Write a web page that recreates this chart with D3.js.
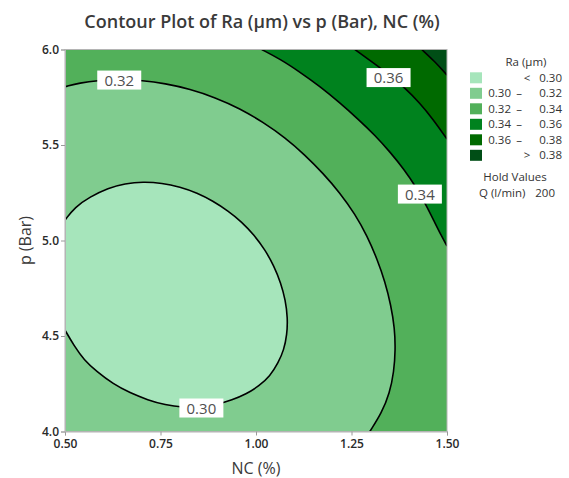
<!DOCTYPE html>
<html>
<head>
<meta charset="utf-8">
<script src="https://cdn.jsdelivr.net/npm/d3@7"></script>
<style>
  html, body { margin: 0; padding: 0; background: #fff; }
  svg { display: block; font-family: "Open Sans", "Noto Sans", sans-serif; }
</style>
</head>
<body>
<svg id="chart" width="569" height="478"></svg>
<script>
// ---- data ----
const xTicks = [0.50, 0.75, 1.00, 1.25, 1.50];
const yTicks = [4.0, 4.5, 5.0, 5.5, 6.0];

// contour lines, [NC (%), p (Bar)] points
const contour030 = [
  [0.500, 5.107], [0.526, 5.175], [0.565, 5.228], [0.613, 5.275], [0.657, 5.298],
  [0.704, 5.308], [0.754, 5.301], [0.801, 5.280], [0.846, 5.249], [0.887, 5.207],
  [0.927, 5.155], [0.963, 5.097], [0.995, 5.029], [1.024, 4.950], [1.047, 4.867],
  [1.065, 4.778], [1.077, 4.688], [1.083, 4.594], [1.081, 4.505], [1.073, 4.427],
  [1.058, 4.359], [1.037, 4.291], [1.008, 4.238], [0.974, 4.196], [0.937, 4.165],
  [0.898, 4.141], [0.853, 4.128], [0.809, 4.126], [0.762, 4.139], [0.717, 4.165],
  [0.670, 4.202], [0.626, 4.249], [0.584, 4.312], [0.550, 4.374], [0.524, 4.448],
  [0.500, 4.531]
];
const contour032 = [
  [0.500, 5.805], [0.539, 5.825], [0.584, 5.838], [0.644, 5.843], [0.702, 5.838],
  [0.762, 5.822], [0.827, 5.793], [0.893, 5.749], [0.958, 5.691], [1.018, 5.620],
  [1.076, 5.539], [1.128, 5.448], [1.175, 5.353], [1.220, 5.249], [1.259, 5.139],
  [1.291, 5.024], [1.317, 4.903], [1.338, 4.783], [1.353, 4.662], [1.363, 4.542],
  [1.365, 4.427], [1.361, 4.312], [1.350, 4.202], [1.329, 4.097], [1.298, 4.000]
];
const contour034 = [
  [1.015, 6.000], [1.063, 5.950], [1.115, 5.882], [1.168, 5.806], [1.220, 5.720],
  [1.267, 5.636], [1.312, 5.550], [1.351, 5.463], [1.387, 5.374], [1.419, 5.280],
  [1.445, 5.186], [1.466, 5.102], [1.484, 5.029], [1.500, 4.971]
];
const contour036 = [
  [1.259, 6.000], [1.304, 5.935], [1.351, 5.866], [1.390, 5.798], [1.429, 5.720],
  [1.463, 5.636], [1.500, 5.531]
];
const contour038 = [
  [1.434, 6.000], [1.469, 5.935], [1.500, 5.866]
];

// label positions [NC, p] of the in-plot contour labels
const labelPos = [[0.857, 4.123], [0.642, 5.840], [1.429, 5.243], [1.347, 5.853]];
const labelText = ["0.30", "0.32", "0.34", "0.36"];

const legendLo = ["", "0.30", "0.32", "0.34", "0.36", ""];
const legendHi = ["0.30", "0.32", "0.34", "0.36", "0.38", "0.38"];
const legendSym = ["<", "–", "–", "–", "–", ">"];
const bandColors = ["#a6e5bb", "#80cc8f", "#52b05a", "#00821e", "#006a00", "#004e16"];

const holdName = "Q (l/min)";
const holdValue = "200";

// ---- layout ----
const svg = d3.select("#chart");
const L = 65, T = 49.5, W = 382, H = 382;

const x = d3.scaleLinear().domain([0.5, 1.5]).range([L, L + W]);
const y = d3.scaleLinear().domain([4.0, 6.0]).range([T + H, T]);

// title
svg.append("text")
  .attr("x", 262).attr("y", 28)
  .attr("text-anchor", "middle")
  .attr("font-size", 18)
  .attr("font-weight", 600)
  .attr("fill", "#3a3a3a")
  .text("Contour Plot of Ra (μm) vs p (Bar), NC (%)");

const clip = svg.append("defs").append("clipPath").attr("id", "plotclip");
clip.append("rect").attr("x", L).attr("y", T).attr("width", W).attr("height", H);

const g = svg.append("g").attr("clip-path", "url(#plotclip)");

const line = d3.line().x(d => x(d[0])).y(d => y(d[1])).curve(d3.curveBasis);

function regionPath(pts, corners) {
  const p = line(pts);
  const rest = corners.map(c => "L" + x(c[0]) + "," + y(c[1])).join("");
  return p + rest + "Z";
}

// top band background (> 0.38)
g.append("rect").attr("x", L).attr("y", T).attr("width", W).attr("height", H)
  .attr("fill", bandColors[5]);

const outer = [[1.5, 4.0], [0.5, 4.0], [0.5, 6.0]];
g.append("path").attr("d", regionPath(contour038, outer)).attr("fill", bandColors[4]);
g.append("path").attr("d", regionPath(contour036, outer)).attr("fill", bandColors[3]);
g.append("path").attr("d", regionPath(contour034, outer)).attr("fill", bandColors[2]);
g.append("path").attr("d", regionPath(contour032, [[0.5, 4.0]])).attr("fill", bandColors[1]);
g.append("path").attr("d", regionPath(contour030, [])).attr("fill", bandColors[0]);

// contour lines
[contour030, contour032, contour034, contour036, contour038].forEach(c => {
  g.append("path").attr("d", line(c)).attr("fill", "none")
    .attr("stroke", "#000").attr("stroke-width", 1.6);
});

// contour labels
labelPos.forEach((pos, i) => {
  const cx = x(pos[0]), cy = y(pos[1]);
  g.append("rect").attr("x", cx - 22).attr("y", cy - 9.5).attr("width", 44).attr("height", 19)
    .attr("fill", "#fff");
  g.append("text").attr("x", cx).attr("y", cy + 5.5).attr("text-anchor", "middle")
    .attr("font-size", 15).attr("fill", "#505050").text(labelText[i]);
});

// frame
svg.append("rect").attr("x", L).attr("y", T).attr("width", W).attr("height", H)
  .attr("fill", "none").attr("stroke", "#b4b4b4").attr("stroke-width", 1);

// axes
const xAxis = svg.append("g").attr("transform", `translate(0,${T + H})`)
  .call(d3.axisBottom(x).tickValues(xTicks).tickFormat(d3.format(".2f")).tickSize(4).tickPadding(4));
const yAxis = svg.append("g").attr("transform", `translate(${L},0)`)
  .call(d3.axisLeft(y).tickValues(yTicks).tickFormat(d3.format(".1f")).tickSize(4).tickPadding(2));
[xAxis, yAxis].forEach(a => {
  a.select(".domain").attr("stroke", "#b4b4b4");
  a.selectAll(".tick line").attr("stroke", "#9a9a9a");
  a.selectAll(".tick text").attr("font-size", 12).attr("font-weight", 600).attr("fill", "#2a2a2a")
    .attr("font-family", "'Open Sans', sans-serif");
});

// axis titles
svg.append("text").attr("x", L + W / 2).attr("y", 474).attr("text-anchor", "middle")
  .attr("font-size", 16).attr("fill", "#3a3a3a").text("NC (%)");
svg.append("text").attr("transform", `translate(31,${T + H / 2}) rotate(-90)`)
  .attr("text-anchor", "middle").attr("font-size", 16).attr("fill", "#3a3a3a").text("p (Bar)");

// legend
const lg = svg.append("g");
const fs = 11.5;
lg.append("text").attr("x", 526).attr("y", 66).attr("text-anchor", "middle")
  .attr("font-size", fs).attr("fill", "#333").text("Ra (μm)");
bandColors.forEach((c, i) => {
  const yy = 72.3 + i * 15.5;
  lg.append("rect").attr("x", 470).attr("y", yy).attr("width", 12).attr("height", 11).attr("fill", c);
  if (legendLo[i]) {
    lg.append("text").attr("x", 511).attr("y", yy + 9.5).attr("text-anchor", "end")
      .attr("font-size", fs).attr("fill", "#333").text(legendLo[i]);
  }
  lg.append("text").attr("x", legendSym[i] === "–" ? 519 : 527).attr("y", yy + 9.5).attr("text-anchor", "middle")
    .attr("font-size", fs).attr("fill", "#333").text(legendSym[i]);
  lg.append("text").attr("x", 562).attr("y", yy + 9.5).attr("text-anchor", "end")
    .attr("font-size", fs).attr("fill", "#333").text(legendHi[i]);
});
lg.append("text").attr("x", 515).attr("y", 181).attr("text-anchor", "middle")
  .attr("font-size", fs).attr("fill", "#333").text("Hold Values");
lg.append("text").attr("x", 479).attr("y", 197).attr("text-anchor", "start")
  .attr("font-size", fs).attr("fill", "#333").text(holdName);
lg.append("text").attr("x", 555).attr("y", 197).attr("text-anchor", "end")
  .attr("font-size", fs).attr("fill", "#333").text(holdValue);
</script>
</body>
</html>
